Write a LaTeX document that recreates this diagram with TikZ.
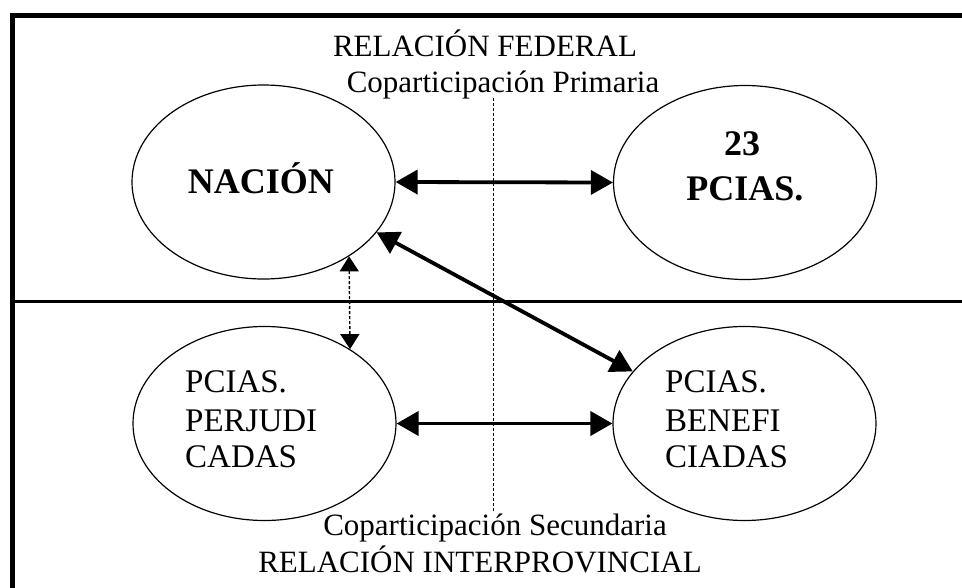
\documentclass[tikz,border=0pt]{standalone}
\usepackage{fontspec}
\setmainfont{Liberation Serif}
\usetikzlibrary{shapes.geometric,arrows.meta}
\tikzset{
  oval/.style={draw=black,line width=1.2pt,ellipse,minimum width=263pt,minimum height=194pt,inner sep=0pt},
  title/.style={anchor=base,inner sep=0pt,font=\fontsize{31}{31}\selectfont},
  boldlbl/.style={anchor=base,inner sep=0pt,font=\fontsize{36}{36}\selectfont\bfseries},
  reglbl/.style={anchor=base west,inner sep=0pt,font=\fontsize{33}{33}\selectfont},
  bigarrow/.style={line width=3.8pt,{Triangle[length=22pt,width=24pt]}-{Triangle[length=22pt,width=24pt]}},
  dotarrow/.style={line width=1.4pt,dash pattern=on 3pt off 2pt,{Triangle[length=15pt,width=19pt]}-{Triangle[length=15pt,width=19pt]}},
  frameline/.style={line width=5pt,line cap=rect},
}
\begin{document}
\begin{tikzpicture}[x=1pt,y=-1pt]
\useasboundingbox[fill=white] (0,0) rectangle (962,587);
% frame
\draw[frameline] (12,15) -- (970,15);
\draw[frameline] (12,15) -- (12,600);
\draw[line width=3.6pt] (12,301.5) -- (962,301.5);
% dotted divider
\coordinate (dtop) at (493,98);
\coordinate (dbot) at (493,512);
\draw[line width=1pt,dash pattern=on 3pt off 2pt] (dtop) -- (dbot);
% ellipses
\node[oval] (nacion) at (263.5,182) {};
\node[oval] (pcias) at (745,182.5) {};
\node[oval] (perj) at (264.5,423.5) {};
\node[oval] (benef) at (744.5,423.5) {};
% labels in ellipses
\node[boldlbl] (tnac) at (261,193) {NACIÓN};
\node[boldlbl] (t23) at (742,155) {23};
\node[boldlbl] (tpc) at (745,200) {PCIAS.};
\node[reglbl] (p1) at (185,392) {PCIAS.};
\node[reglbl] (p2) at (185,431) {PERJUDI};
\node[reglbl] (p3) at (185,467) {CADAS};
\node[reglbl] (b1) at (665,392) {PCIAS.};
\node[reglbl] (b2) at (665,431) {BENEFI};
\node[reglbl] (b3) at (665,467) {CIADAS};
% titles
\node[title] (rf) at (485,56) {RELACIÓN FEDERAL};
\node[title] (cp) at (503,92) {Coparticipación Primaria};
\node[title] (cs) at (495,535) {Coparticipación Secundaria};
\node[title] (ri) at (480,572) {RELACIÓN INTERPROVINCIAL};
% arrows
\draw[bigarrow] (nacion.east) -- (pcias.west);
\draw[bigarrow] (perj.east) -- (benef.west);
\draw[bigarrow] (nacion.-24) -- (benef.155);
\draw[dotarrow] (nacion.-41) -- (perj.41);
\end{tikzpicture}
\end{document}
